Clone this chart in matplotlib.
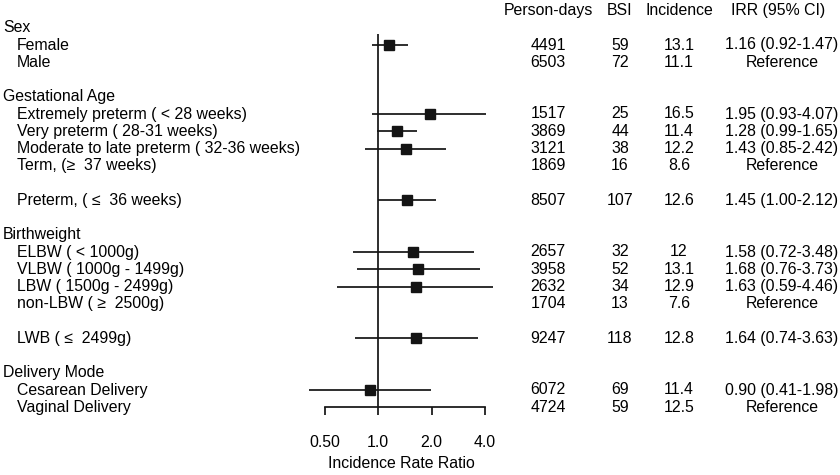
import numpy as np
import matplotlib
matplotlib.use("Agg")
import matplotlib.pyplot as plt

plt.rcParams['font.family'] = ['Liberation Sans', 'DejaVu Sans']

# ---------------- data ----------------
section_names = ["Sex", "Gestational Age", "Birthweight", "Delivery Mode"]
section_rows = [1, 5, 13, 21]

item_labels = [
    "Female", "Male",
    "Extremely preterm ( < 28 weeks)", "Very preterm ( 28-31 weeks)",
    "Moderate to late preterm ( 32-36 weeks)", "Term, (\u2265  37 weeks)",
    "Preterm, ( \u2264  36 weeks)",
    "ELBW ( < 1000g)", "VLBW ( 1000g - 1499g)", "LBW ( 1500g - 2499g)",
    "non-LBW ( \u2265  2500g)",
    "LWB ( \u2264  2499g)",
    "Cesarean Delivery", "Vaginal Delivery",
]
item_rows = [2, 3, 6, 7, 8, 9, 11, 14, 15, 16, 17, 19, 22, 23]
person_days = [4491, 6503, 1517, 3869, 3121, 1869, 8507, 2657, 3958, 2632, 1704, 9247, 6072, 4724]
bsi = [59, 72, 25, 44, 38, 16, 107, 32, 52, 34, 13, 118, 69, 59]
incidence = [13.1, 11.1, 16.5, 11.4, 12.2, 8.6, 12.6, 12, 13.1, 12.9, 7.6, 12.8, 11.4, 12.5]
nan = np.nan
irr = [1.16, nan, 1.95, 1.28, 1.43, nan, 1.45, 1.58, 1.68, 1.63, nan, 1.64, 0.90, nan]
ci_low = [0.92, nan, 0.93, 0.99, 0.85, nan, 1.00, 0.72, 0.76, 0.59, nan, 0.74, 0.41, nan]
ci_high = [1.47, nan, 4.07, 1.65, 2.42, nan, 2.12, 3.48, 3.73, 4.46, nan, 3.63, 1.98, nan]

col_headers = ["Person-days", "BSI", "Incidence", "IRR (95% CI)"]
xticks = [0.5, 1.0, 2.0, 4.0]
xtick_labels = ["0.50", "1.0", "2.0", "4.0"]
xlabel = "Incidence Rate Ratio"

# ---------------- layout ----------------
W, H = 840, 475
X_REF = 378.0      # pixel x of IRR = 1
PX_DBL = 53.5      # pixels per doubling
Y0, DY = 10.5, 17.25   # pixel y of row 0, row spacing
INK = "#141414"
TXT = "#000000"
FS = 11.4

fig = plt.figure(figsize=(W / 100, H / 100), dpi=100)
ax = fig.add_axes([0, 0, 1, 1])
ax.patch.set_alpha(0)
ax.set_xscale('log')
ax.set_xlim(2 ** (-X_REF / PX_DBL), 2 ** ((W - X_REF) / PX_DBL))
ax.set_ylim((H - Y0) / DY, -Y0 / DY)

def fx(px):
    return px / W

tr = ax.get_yaxis_transform()

# reference line at 1
ax.vlines(1.0, (34 - Y0) / DY, 23, color=INK, lw=1.25, zorder=2)

# CIs and squares
irr_a = np.array(irr)
lo_a = np.array(ci_low)
hi_a = np.array(ci_high)
rows_a = np.array(item_rows, dtype=float)
ok = ~np.isnan(irr_a)
ax.hlines(rows_a[ok], lo_a[ok], hi_a[ok], color=INK, lw=1.25, zorder=3)
ax.plot(irr_a[ok], rows_a[ok], 's', color=INK, ms=7.6, zorder=4)

# x axis
for s in ['top', 'left', 'right']:
    ax.spines[s].set_visible(False)
ax.spines['bottom'].set_position(('data', 23))
ax.spines['bottom'].set_bounds(0.5, 4.0)
ax.spines['bottom'].set_linewidth(1.25)
ax.spines['bottom'].set_color(INK)
ax.set_xticks(xticks)
ax.set_xticklabels(xtick_labels)
ax.xaxis.set_minor_locator(matplotlib.ticker.NullLocator())
ax.tick_params(axis='x', direction='out', length=5.8, width=1.25, color=INK,
               labelsize=FS, labelcolor=TXT, pad=14.5)
ax.set_yticks([])
ax.set_xlabel(xlabel, fontsize=FS, color=TXT)
ax.xaxis.set_label_coords(fx(401), 1 - 456 / H)

# left labels
for name, r in zip(section_names, section_rows):
    ax.text(fx(3), r, name, transform=tr, ha='left', va='center', fontsize=FS, color=TXT)
for name, r in zip(item_labels, item_rows):
    ax.text(fx(17), r, name, transform=tr, ha='left', va='center', fontsize=FS, color=TXT)

# table columns
hdr_x = [548, 620, 679, 778]
for h, x in zip(col_headers, hdr_x):
    ax.text(fx(x), 0, h, transform=tr, ha='center', va='center', fontsize=FS, color=TXT)

for i, r in enumerate(item_rows):
    ax.text(fx(548), r, f"{person_days[i]}", transform=tr, ha='center', va='center', fontsize=FS, color=TXT)
    ax.text(fx(620), r, f"{bsi[i]}", transform=tr, ha='center', va='center', fontsize=FS, color=TXT)
    ax.text(fx(679), r, f"{incidence[i]:g}", transform=tr, ha='center', va='center', fontsize=FS, color=TXT)
    if np.isnan(irr[i]):
        s = "Reference"
    else:
        s = f"{irr[i]:.2f} ({ci_low[i]:.2f}-{ci_high[i]:.2f})"
    ax.text(fx(782), r, s, transform=tr, ha='center', va='center', fontsize=FS, color=TXT)

fig.savefig("out.png", dpi=100)
